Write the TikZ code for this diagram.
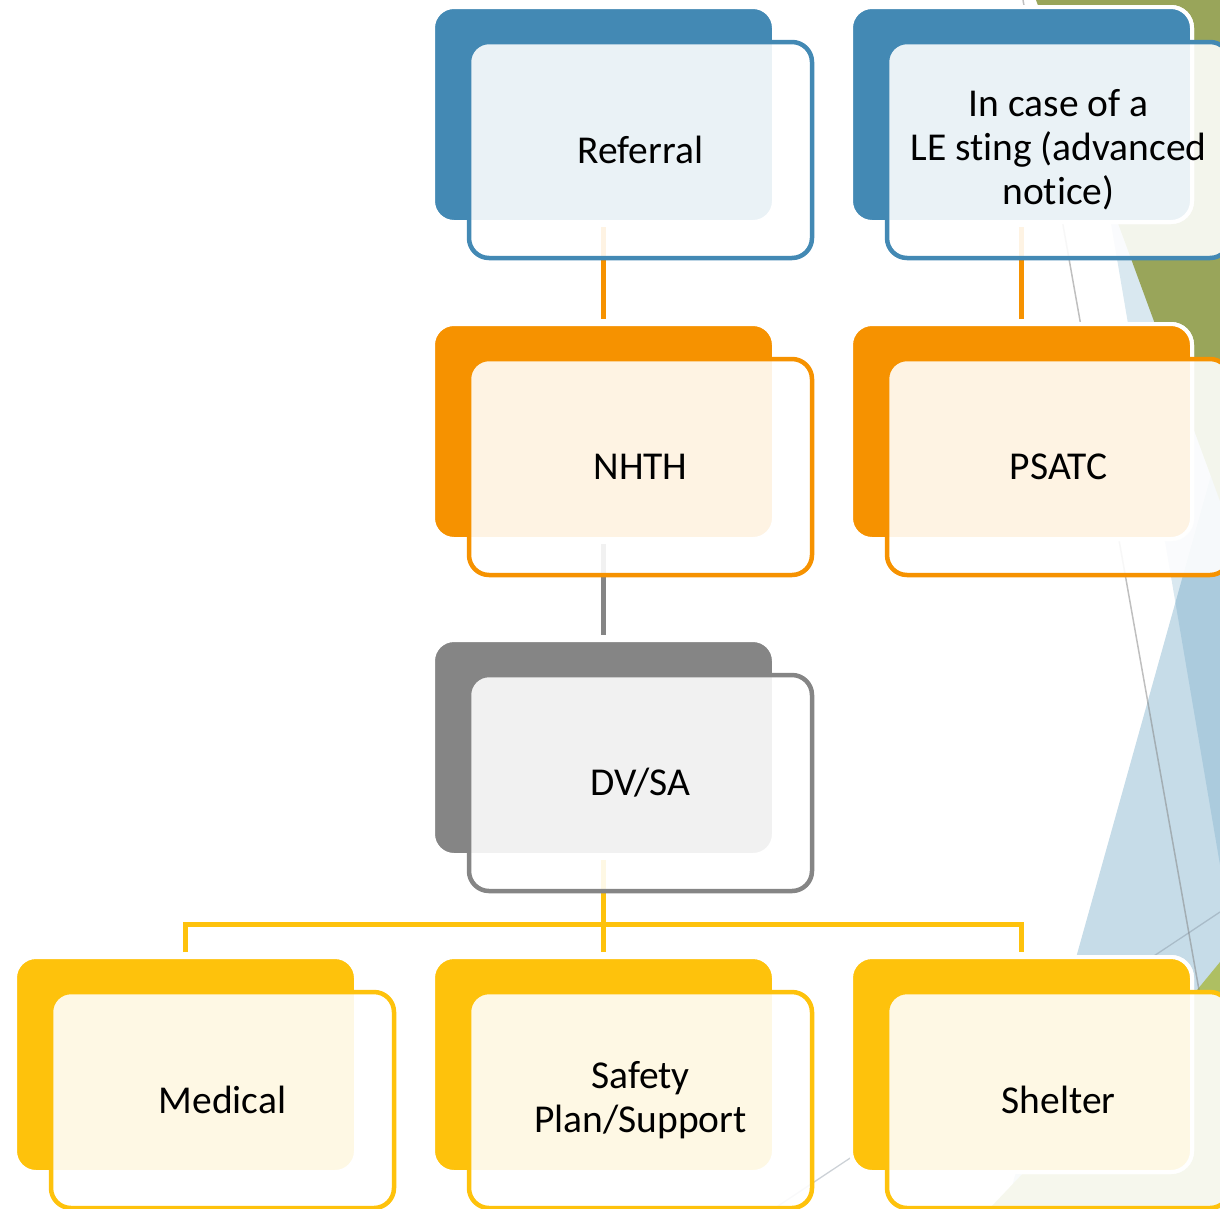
\documentclass[tikz,border=0pt]{standalone}
\usepackage{fontspec}
\setmainfont{Carlito}[Ligatures=NoCommon]
\definecolor{cblue}{HTML}{4389B4}
\definecolor{corange}{HTML}{F69200}
\definecolor{cgray}{HTML}{858585}
\definecolor{cyellow}{HTML}{FEC20C}
\definecolor{cgreen}{HTML}{99A55A}
\definecolor{cgreenb}{HTML}{AEBF62}
\definecolor{bgblue}{HTML}{418AB3}
\begin{document}
\begin{tikzpicture}[x=1pt,y=-1pt,
  backbox/.style={draw=white, fill=#1, line width=4pt, rounded corners=21pt,
    minimum width=341pt, minimum height=215pt, inner sep=0pt, outer sep=0pt,
    anchor=north west},
  frontbox/.style={draw=#1, line width=4.5pt, rounded corners=20pt,
    minimum width=343pt, minimum height=216pt, inner sep=0pt, outer sep=0pt,
    fill=white, fill opacity=0.89, text opacity=1, anchor=north west,
    align=center, font=\fontsize{39.5pt}{44pt}\selectfont},
  conn/.style={line width=5pt, draw=#1, shorten <=5pt, shorten >=5pt},
  bgline/.style={line width=1.5pt, draw=gray, draw opacity=0.5}
]
\useasboundingbox (0,0) rectangle (1220,1208);
\clip (0,0) rectangle (1220,1208);

% background facets
\fill[bgblue, opacity=0.2] (1073,0) -- (1220,0) -- (1220,865) -- cycle;
\fill[bgblue, opacity=0.3] (1220,443) -- (1220,1208) -- (1006,1208) -- cycle;
\fill[cgreen] (1036,0) -- (1220,0) -- (1220,501) -- cycle;
\fill[cgreenb] (1197,990) -- (1220,962) -- (1220,1208) -- (990,1208) -- cycle;
\draw[bgline] (1023,0) -- (1199,990);
\draw[line width=1.3pt, draw={rgb,255:red,127;green,140;blue,153}, draw opacity=0.4] (1220,912) -- (775,1208);

% back boxes
\node[backbox=cblue]   (refB)   at (433,7)   {};
\node[backbox=cblue]   (leB)    at (851,7)   {};
\node[backbox=corange] (nhthB)  at (433,324) {};
\node[backbox=corange] (psatcB) at (851,324) {};
\node[backbox=cgray]   (dvsaB)  at (433,640) {};
\node[backbox=cyellow] (medB)   at (15,957)  {};
\node[backbox=cyellow] (safeB)  at (433,957) {};
\node[backbox=cyellow] (shelB)  at (851,957) {};
\coordinate (bus) at (603.5,924);

% connectors (under the front boxes)
\draw[conn=corange] (refB.south) -- (nhthB.north);
\draw[conn=corange] (leB.south) -- (psatcB.north);
\draw[conn=cgray] (nhthB.south) -- (dvsaB.north);
\draw[conn=cyellow] (dvsaB.south) -- (safeB.north);
\draw[conn=cyellow] (medB.north) |- (bus) -| (shelB.north);

% redraw back boxes above connectors
\node[backbox=cblue]   at (433,7)   {};
\node[backbox=cblue]   at (851,7)   {};
\node[backbox=corange] at (433,324) {};
\node[backbox=corange] at (851,324) {};
\node[backbox=cgray]   at (433,640) {};
\node[backbox=cyellow] at (15,957)  {};
\node[backbox=cyellow] at (433,957) {};
\node[backbox=cyellow] at (851,957) {};

% front boxes
\node[frontbox=cblue]   (refF)   at (469,42)   {Referral};
\node[frontbox=cblue]   (leF)    at (887,42)   {In case of a\\LE sting (advanced\\notice)};
\node[frontbox=corange] (nhthF)  at (469,359)  {NHTH};
\node[frontbox=corange] (psatcF) at (887,359)  {PSATC};
\node[frontbox=cgray]   (dvsaF)  at (469,675)  {DV/SA};
\node[frontbox=cyellow] (medF)   at (51,992)   {Medical};
\node[frontbox=cyellow] (safeF)  at (469,992)  {Safety\\Plan/Support};
\node[frontbox=cyellow] (shelF)  at (887,992)  {Shelter};
\end{tikzpicture}
\end{document}
